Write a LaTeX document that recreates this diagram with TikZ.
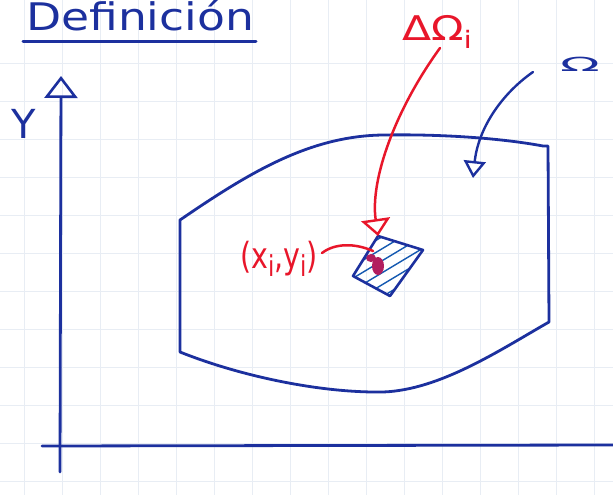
\documentclass[tikz,border=0pt]{standalone}
\usepackage{fontspec}
\setmainfont{DejaVu Sans}
\usepackage{graphicx}
\usetikzlibrary{arrows.meta}
\definecolor{inkblue}{RGB}{28,48,158}
\definecolor{inkred}{RGB}{232,22,42}
\definecolor{inkdot}{RGB}{178,30,95}
\definecolor{gridc}{RGB}{232,237,244}
\newcommand{\lowsub}[1]{\raisebox{-0.22em}{\fontsize{24}{24}\selectfont #1}}
\tikzset{
  ink/.style={draw=inkblue, line width=2.8pt, line cap=round, line join=round},
  redink/.style={draw=inkred, line width=2.5pt, line cap=round},
}
\begin{document}
\begin{tikzpicture}[x=1pt,y=-1pt]
\useasboundingbox (0,0) rectangle (613,495);
\fill[white] (0,0) rectangle (613,495);
% faint squared paper
\foreach \yy in {63,101,...,490} \draw[gridc, line width=0.6pt] (0,\yy) -- (613,\yy);
\foreach \xx in {24,62,...,613} \draw[gridc, line width=0.6pt] (\xx,0) -- (\xx,495);

% title
\node[text=inkblue, font=\fontsize{38}{40}\selectfont, anchor=base west, inner sep=0] (title) at (26,31) {\scalebox{1.2}[1]{Definición}};
\coordinate (ul1) at (23,42);
\coordinate (ul2) at (256,42);
\draw[ink, line width=3pt] (ul1) -- (ul2);

% axes
\coordinate (O) at (60,446);
\coordinate (ybot) at (60,472);
\coordinate (ytop) at (61,76);
\coordinate (xleft) at (42,446);
\coordinate (xright) at (613,445);
\draw[ink, -{Triangle[open,length=22pt,width=33pt,line width=2.6pt]}] (ybot) -- (ytop);
\draw[ink] (xleft) -- (xright);
\node[text=inkblue, font=\fontsize{40}{40}\selectfont] (ylab) at (24,124) {Y};

% region Omega
\draw[ink] (180,220) .. controls (250,172) and (310,136) .. (383,135)
  .. controls (440,134) and (500,138) .. (543,146) -- (548,146)
  -- (549,322) .. controls (500,350) and (440,390) .. (383,392)
  .. controls (320,393) and (240,376) .. (180,352) -- cycle;

% small element Delta Omega_i
\coordinate (st) at (378,236);
\coordinate (sr) at (423,250);
\coordinate (sb) at (390,296);
\coordinate (sl) at (353,276);
\begin{scope}
  \clip (st) -- (sr) -- (sb) -- (sl) -- cycle;
  \foreach \k in {0,12,...,72} \draw[inkblue!80!cyan, line width=1.4pt] (340,262+\k) -- (440,202+\k);
\end{scope}
\fill[inkdot] (378,266) ellipse (6pt and 9pt);
\fill[inkdot] (371,258) ellipse (5pt and 4pt);
\draw[ink, line width=2.6pt] (st) -- (sr) -- (sb) -- (sl) -- cycle;

% labels
\node[text=inkred, font=\fontsize{34}{34}\selectfont, inner sep=0] (dlab) at (437,32) {\scalebox{1.25}[1]{ΔΩ\lowsub{i}}};
\node[text=inkblue, font=\fontsize{26}{26}\selectfont, inner sep=0] (olab) at (580,64) {\scalebox{2.0}[0.75]{Ω}};
\node[text=inkred, font=\fontsize{30}{30}\selectfont, inner sep=0] (plab) at (279,259) {\scalebox{0.95}[1.2]{(x\lowsub{i},y\lowsub{i})}};

% connectors
\coordinate (dstart) at (440,48);
\draw[redink, -{Triangle[open,length=17pt,width=29pt,line width=2.4pt]}] (dstart) .. controls (395,110) and (370,180) .. (st);
\coordinate (ostart) at (533,72);
\coordinate (otip) at (473,178);
\draw[ink, line width=2.4pt, -{Triangle[open,length=17pt,width=22pt,line width=2.4pt]}] (ostart) .. controls (500,95) and (478,130) .. (otip);
\coordinate (pstart) at (322,253);
\coordinate (pend) at (373,251);
\draw[redink] (pstart) .. controls (335,243) and (355,243) .. (pend);
\end{tikzpicture}
\end{document}
